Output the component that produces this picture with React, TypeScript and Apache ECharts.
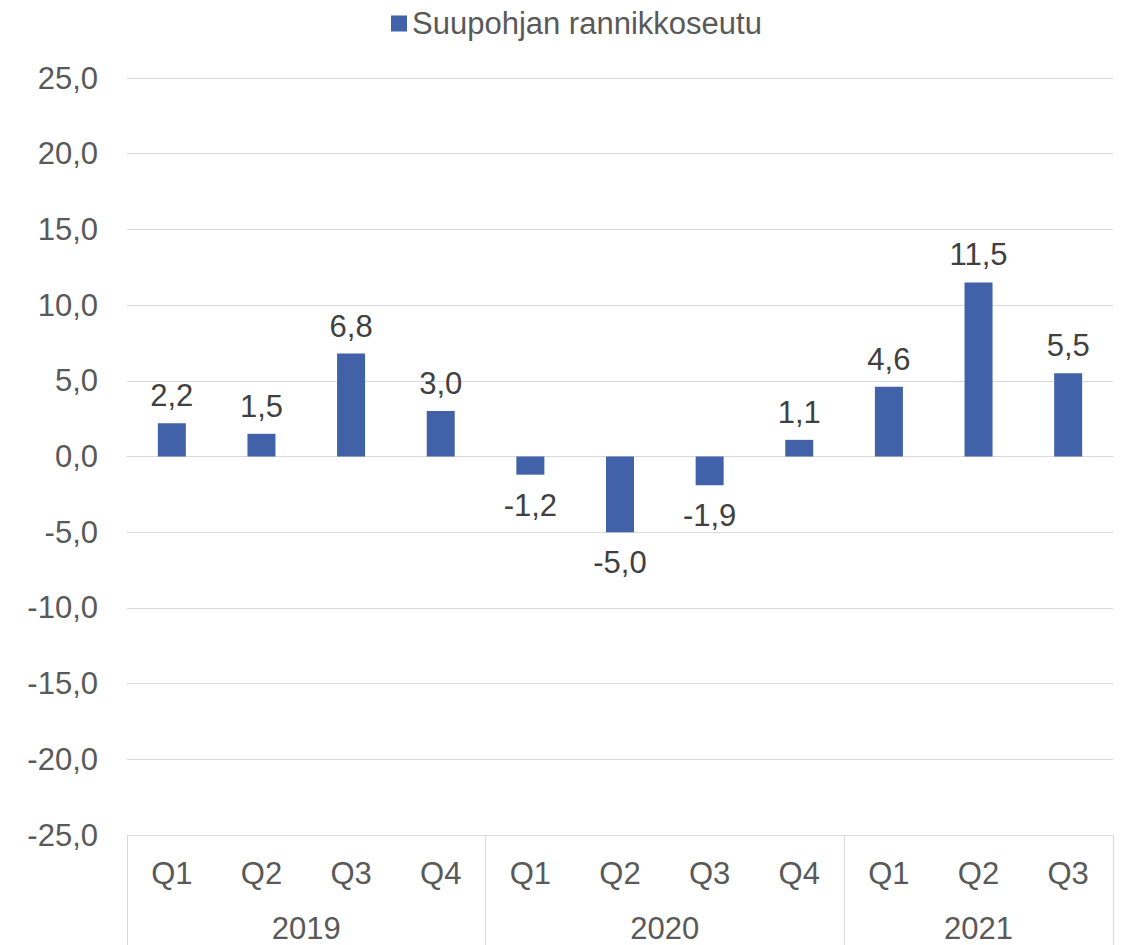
import React, { useEffect, useRef } from "react";
import * as echarts from "echarts";

const quarters = ["Q1", "Q2", "Q3", "Q4", "Q1", "Q2", "Q3", "Q4", "Q1", "Q2", "Q3"];
const values = [2.2, 1.5, 6.8, 3.0, -1.2, -5.0, -1.9, 1.1, 4.6, 11.5, 5.5];
const years = ["2019", "2020", "2021"];
const yearCounts = [4, 4, 3];
const seriesName = "Suupohjan rannikkoseutu";

const FONT = "'Liberation Sans', Arial, sans-serif";
const FS = 31;
const fmt = (v: number) => v.toFixed(1).replace(".", ",");

export default function App() {
  const ref = useRef<HTMLDivElement>(null);
  useEffect(() => {
    if (!ref.current) return;
    const chart = echarts.init(ref.current, null, { renderer: "svg" });
    const bounds: number[] = [0];
    const centers: number[] = [];
    yearCounts.forEach((c) => {
      const start = bounds[bounds.length - 1];
      centers.push(start + c / 2);
      bounds.push(start + c);
    });
    const total = bounds[bounds.length - 1];
    chart.setOption({
      animation: false,
      textStyle: { fontFamily: FONT },
      legend: {
        data: [seriesName],
        left: 386,
        top: 3,
        icon: "rect",
        itemWidth: 16,
        itemHeight: 16,
        itemGap: 8,
        textStyle: { fontSize: FS, color: "#595959", fontFamily: FONT },
      },
      grid: { left: 127, right: 9, top: 78, bottom: 110, containLabel: false },
      xAxis: [
        {
          type: "category",
          data: quarters,
          position: "bottom",
          axisLine: { show: true, lineStyle: { color: "#d9d9d9", width: 1 } },
          axisTick: { show: false },
          axisLabel: { fontSize: FS, color: "#595959", margin: 23, fontFamily: FONT, interval: 0 },
        },
        {
          type: "value",
          min: 0,
          max: total,
          position: "bottom",
          axisLine: { show: false },
          splitLine: { show: false },
          axisTick: {
            show: true,
            customValues: bounds,
            length: 120,
            lineStyle: { color: "#d9d9d9", width: 1 },
          },
          axisLabel: {
            show: true,
            customValues: centers,
            margin: 78,
            fontSize: FS,
            color: "#595959",
            fontFamily: FONT,
            formatter: (v: number) => {
              const i = centers.findIndex((c) => Math.abs(c - v) < 1e-6);
              return i >= 0 ? years[i] : "";
            },
          },
        },
      ],
      yAxis: {
        type: "value",
        min: -25,
        max: 25,
        interval: 5,
        axisLine: { show: false },
        axisTick: { show: false },
        splitLine: { lineStyle: { color: "#d9d9d9", width: 1 } },
        axisLabel: {
          fontSize: FS,
          color: "#595959",
          margin: 29,
          fontFamily: FONT,
          formatter: (v: number) => fmt(v),
        },
      },
      series: [
        {
          name: seriesName,
          type: "bar",
          xAxisIndex: 0,
          data: values.map((v) => ({
            value: v,
            label: {
              show: true,
              position: v >= 0 ? "top" : "bottom",
              distance: v >= 0 ? 12 : 15,
            },
          })),
          barWidth: 28,
          itemStyle: { color: "#4161a9" },
          label: {
            show: true,
            fontSize: FS,
            color: "#404040",
            fontFamily: FONT,
            formatter: (p: any) => fmt(p.value),
          },
        },
      ],
    });
    return () => chart.dispose();
  }, []);
  return (
    <div
      ref={ref}
      style={{ position: "absolute", left: 0, top: 0, width: 1122, height: 945 }}
    />
  );
}
